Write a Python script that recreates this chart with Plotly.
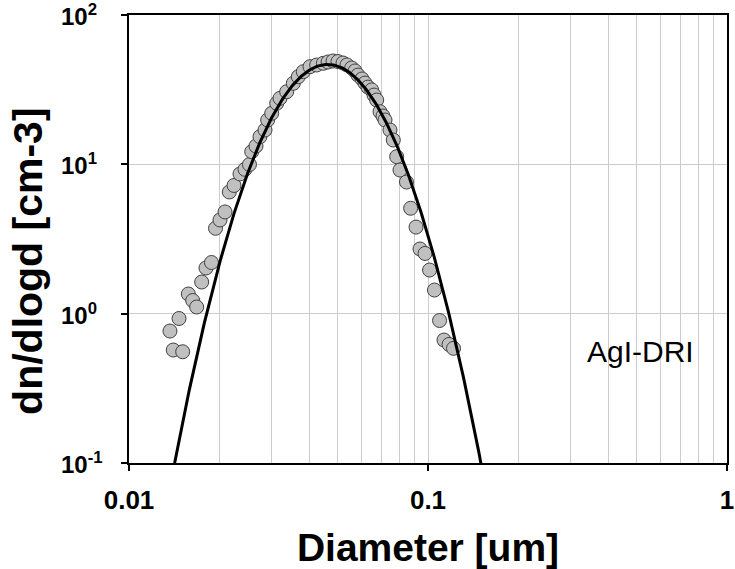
import numpy as np
import plotly.graph_objects as go

# Measured size distribution (diameter in um, dN/dlogD in cm^-3)
diameter_um = [
    0.01371, 0.01406, 0.01512, 0.01470, 0.01579, 0.01633, 0.01684, 0.01750,
    0.01809, 0.01887, 0.01947, 0.02015, 0.02095, 0.02165, 0.02245, 0.02351,
    0.02443, 0.02529, 0.02573, 0.02659, 0.02742, 0.02850, 0.02910, 0.03001,
    0.03119, 0.03199, 0.03368, 0.03544, 0.03683, 0.03827, 0.04030, 0.04243,
    0.04466, 0.04631, 0.04813, 0.05000, 0.05196, 0.05358, 0.05556, 0.05700,
    0.05833, 0.06016, 0.06156, 0.06299, 0.06482, 0.06598, 0.06736, 0.06910,
    0.07071, 0.07181, 0.07462, 0.07653, 0.07856, 0.08060, 0.08473, 0.08750,
    0.09120, 0.09402, 0.09772, 0.1012, 0.1051, 0.1093, 0.1131, 0.1176, 0.1217,
]
dn_dlogd = [
    0.765, 0.571, 0.556, 0.928, 1.354, 1.225, 1.108, 1.629,
    2.022, 2.201, 3.73, 4.24, 4.80, 6.53, 7.22, 8.62,
    9.26, 9.97, 12.15, 13.26, 15.31, 16.98, 19.81, 21.96,
    25.63, 27.68, 30.64, 34.88, 38.63, 41.73, 45.06, 46.26,
    47.49, 48.45, 49.2, 48.8, 47.7, 46.3, 44.2, 42.2,
    39.6, 37.3, 35.0, 32.9, 31.5, 29.1, 26.97, 22.5,
    21.07, 19.81, 16.98, 14.55, 11.25, 9.16, 7.61, 5.08,
    3.80, 2.71, 2.53, 1.96, 1.44, 0.900, 0.666, 0.622, 0.586,
]

# Single-mode lognormal fit
N_TOTAL = 17.1      # cm^-3
DG_UM = 0.0462      # geometric mean diameter, um
SIGMA_G = 1.40      # geometric standard deviation

fit_d = np.logspace(np.log10(0.012), np.log10(0.18), 400)
log_sig = np.log10(SIGMA_G)
fit_n = N_TOTAL / (np.sqrt(2 * np.pi) * log_sig) * np.exp(
    -(np.log10(fit_d) - np.log10(DG_UM)) ** 2 / (2 * log_sig ** 2)
)

y_tickvals = [0.1, 1, 10, 100]
y_ticktext = ["10<sup>-1</sup>", "10<sup>0</sup>", "10<sup>1</sup>", "10<sup>2</sup>"]
x_tickvals = [0.01, 0.1, 1]
x_ticktext = ["0.01", "0.1", "1"]

FONT = "Liberation Sans, Arial, sans-serif"

fig = go.Figure()
fig.add_trace(go.Scatter(
    x=diameter_um, y=dn_dlogd, mode="markers",
    marker=dict(size=14, color="#c0c0c0", line=dict(color="#404040", width=1)),
    showlegend=False,
))
fig.add_trace(go.Scatter(
    x=fit_d, y=fit_n, mode="lines",
    line=dict(color="black", width=3),
    showlegend=False,
))

axis_common = dict(
    showline=True, linecolor="black", linewidth=1.5, mirror=True,
    ticks="outside", ticklen=6, tickcolor="black", tickwidth=1.5,
    gridcolor="#cccccc", gridwidth=1.2, zeroline=False, automargin=False,
)

fig.update_xaxes(
    type="log", range=[-2, 0],
    tickvals=x_tickvals, ticktext=x_ticktext,
    tickfont=dict(family=FONT, size=26, color="black", weight="bold"),
    ticklabelstandoff=7, ticklabeloverflow="allow",
    minor=dict(dtick="D1", showgrid=True, gridcolor="#cccccc", gridwidth=1.2, ticks=""),
    title=dict(text="Diameter [um]", standoff=21,
               font=dict(family=FONT, size=39, color="black", weight="bold")),
    **axis_common,
)
# y tick marks from the axis; the power-of-ten labels are placed as
# left-aligned text next to each tick
fig.update_yaxes(
    type="log", range=[-1, 2],
    tickvals=y_tickvals, showticklabels=False,
    **axis_common,
)
for val, label in zip(y_tickvals, y_ticktext):
    fig.add_annotation(
        text=f"<b>{label}</b>", xref="paper", yref="y",
        x=-0.1154, y=np.log10(val), xanchor="left", yanchor="middle",
        showarrow=False, borderpad=0,
        font=dict(family=FONT, size=24, color="black"),
    )

# y-axis title
fig.add_annotation(
    text="<b>dn/dlogd [cm-3]</b>", textangle=-90,
    xref="paper", yref="paper", x=-0.169, y=0.451,
    xanchor="center", yanchor="middle", showarrow=False,
    font=dict(family=FONT, size=41, color="black"),
)

fig.add_annotation(
    text="AgI-DRI", xref="paper", yref="paper", x=0.856, y=0.248,
    xanchor="center", yanchor="middle",
    showarrow=False, font=dict(family=FONT, size=30, color="black"),
)

fig.update_layout(
    width=735, height=569,
    margin=dict(l=129, r=8, t=15, b=106),
    paper_bgcolor="white", plot_bgcolor="white",
)

fig.write_html("out.html")
